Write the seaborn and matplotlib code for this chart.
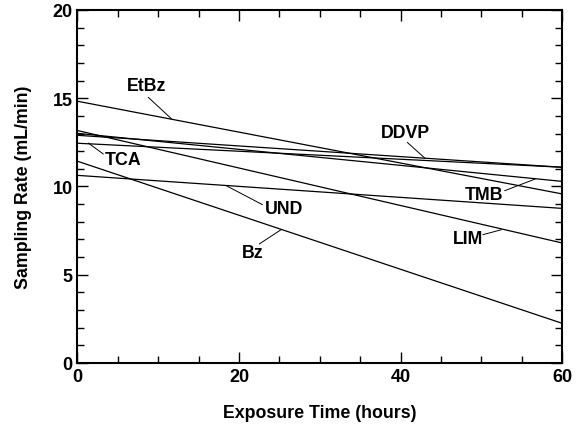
"""
Sampling rate vs exposure time, linear fits per compound.
"""
import pandas as pd
import matplotlib
matplotlib.use("Agg")
import matplotlib.pyplot as plt
import matplotlib.ticker as ticker
import seaborn as sns

# Fitted rates at start and end of exposure (mL/min)
compounds = ['EtBz', 'LIM', 'TMB', 'DDVP', 'TCA', 'Bz', 'UND']
hours = [0, 60]
rate_start = [14.83, 13.17, 13.01, 12.90, 12.45, 11.43, 10.63]
rate_end = [9.58, 6.80, 10.29, 11.09, 11.09, 2.25, 8.76]

# label text position, leader line start and end (data coords)
label_xy = [(8.6, 15.75), (48.4, 7.03), (50.3, 9.57), (40.6, 13.07),
            (5.6, 11.53), (21.7, 6.26), (25.6, 8.78)]
leader_from = [(8.77, 15.05), (50.2, 7.27), (52.9, 9.76), (40.84, 12.5),
               (3.2, 11.84), (22.5, 6.74), (22.9, 8.97)]
leader_to = [(11.67, 13.82), (52.5, 7.55), (56.66, 10.42), (43.03, 11.6),
             (1.34, 12.46), (25.2, 7.55), (18.4, 10.05)]

rows = []
for name, a, b in zip(compounds, rate_start, rate_end):
    rows.append({'Compound': name, 'Hours': hours[0], 'Rate': a})
    rows.append({'Compound': name, 'Hours': hours[1], 'Rate': b})
df = pd.DataFrame(rows)

sns.set_style("ticks", {'text.color': 'black', 'axes.labelcolor': 'black',
                        'xtick.color': 'black', 'ytick.color': 'black',
                        'axes.edgecolor': 'black'})
plt.rcParams['font.family'] = ['Liberation Sans', 'DejaVu Sans']
plt.rcParams['font.weight'] = 'bold'

fig = plt.figure(figsize=(5.8, 4.31), dpi=100)
ax = fig.add_axes([0.1336, 0.1555, 0.9690 - 0.1336, 0.9745 - 0.1555])

sns.lineplot(data=df, x='Hours', y='Rate', hue='Compound',
             palette=['black'] * len(compounds), linewidth=0.9,
             legend=False, ax=ax)

for name, (tx, ty), p0, p1 in zip(compounds, label_xy, leader_from, leader_to):
    ax.text(tx, ty, name, ha='center', va='center', fontsize=12.8,
            fontweight='bold', color='black')
    ax.plot([p0[0], p1[0]], [p0[1], p1[1]], color='black', linewidth=0.7)

ax.set_xlim(0, 60)
ax.set_ylim(0, 20)
ax.xaxis.set_major_locator(ticker.MultipleLocator(20))
ax.xaxis.set_minor_locator(ticker.MultipleLocator(5))
ax.yaxis.set_major_locator(ticker.MultipleLocator(5))
ax.yaxis.set_minor_locator(ticker.MultipleLocator(1))
ax.tick_params(which='both', direction='in', top=True, right=True,
               width=1, labelsize=13, color='black', labelcolor='black')
ax.tick_params(which='major', length=8)
ax.tick_params(which='minor', length=5)
for lbl in ax.get_xticklabels() + ax.get_yticklabels():
    lbl.set_fontweight('bold')

for side in ax.spines.values():
    side.set_linewidth(1.5)
    side.set_color('black')

ax.set_xlabel('Exposure Time (hours)', fontsize=12.8, fontweight='bold',
              labelpad=14, color='black')
ax.set_ylabel('Sampling Rate (mL/min)', fontsize=12.8, fontweight='bold',
              labelpad=15, color='black')

fig.savefig('out.png', dpi=100)
plt.close(fig)
